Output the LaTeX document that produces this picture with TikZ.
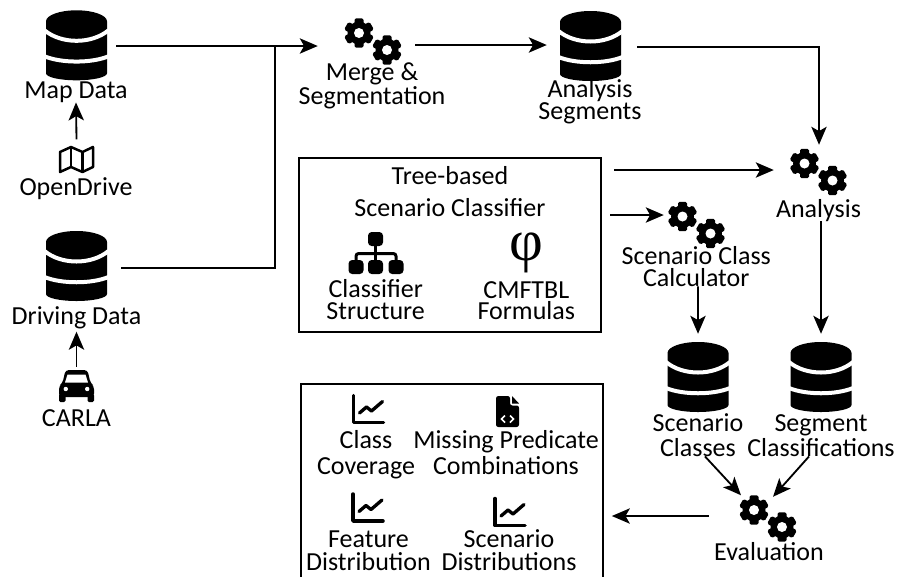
\documentclass[tikz,border=0pt]{standalone}
\usepackage{fontspec}
\setmainfont{Carlito}
\newfontfamily\phifont{Liberation Serif}
\usetikzlibrary{arrows.meta}

\tikzset{
	flow/.style={line width=.055cm, -{Stealth[length=.54cm,width=.46cm,inset=.13cm]}},
	plainflow/.style={line width=.055cm},
	panel/.style={draw, line width=.05cm, inner sep=0pt},
	caption/.style={inner sep=0pt, align=center, anchor=base},
	dbicon/.style={inner sep=0pt, minimum width=61*.03cm, minimum height=70*.03cm},
	gearicon/.style={inner sep=0pt, minimum width=57*.03cm, minimum height=46*.03cm},
	smallicon/.style={inner sep=0pt, minimum width=35*.03cm, minimum height=30*.03cm},
	database/.pic={
		\fill (-30.5,24) arc[start angle=180,end angle=0,x radius=30.5,y radius=11]
			-- (30.5,-28) arc[start angle=0,end angle=-180,x radius=30.5,y radius=7] -- cycle;
		\draw[white, line width=.12cm] (-32,15) .. controls (-15,1) and (15,1) .. (32,15);
		\draw[white, line width=.12cm] (-32,-11) .. controls (-15,-18) and (15,-18) .. (32,-11);
	},
	gears/.pic={
		\foreach \gx/\gy in {-14/8.5,14/-8.5} {
			\begin{scope}[shift={(\gx,\gy)}]
				\fill (0,0) circle (11.5);
				\foreach \a in {0,60,...,300} {
					\fill[rotate=\a, rounded corners=.05cm] (-4.5,8) rectangle (4.5,14.7);
				}
				\fill[white] (0,0) circle (5);
			\end{scope}
		}
	},
	chart/.pic={
		\draw[line width=.105cm, line cap=round, line join=round] (-15,14) -- (-15,-13) -- (15,-13);
		\draw[line width=.1cm, line cap=round, line join=round] (-9,-3.5) -- (-2,2.5) -- (3,-1.5) -- (14,8);
	},
	foldmap/.pic={
		\draw[line width=.075cm, line join=round] (-16.5,7.5) -- (-5.5,12.5) -- (6,7.5) -- (16.5,12.5)
			-- (16.5,-7.5) -- (6,-12.5) -- (-5.5,-7.5) -- (-16.5,-12.5) -- cycle;
		\draw[line width=.075cm] (-5.5,12.5) -- (-5.5,-7.5);
		\draw[line width=.075cm] (6,7.5) -- (6,-12.5);
	},
	car/.pic={
		\fill[rounded corners=.1cm] (-17.5,-11) -- (-17.5,0) -- (-14,3) -- (-11,16) -- (11,16) -- (14,3)
			-- (17.5,0) -- (17.5,-11) -- cycle;
		\fill[rounded corners=.04cm] (-17.5,-16) rectangle (-11,-8);
		\fill[rounded corners=.04cm] (17.5,-16) rectangle (11,-8);
		\fill[white] (-11.5,3.5) -- (-9,11.5) -- (9,11.5) -- (11.5,3.5) -- cycle;
		\fill[white] (-10.7,-3) circle (2.2);
		\fill[white] (10.7,-3) circle (2.2);
	},
	tree/.pic={
		\draw[line width=.09cm] (0,14) -- (0,0);
		\draw[line width=.09cm, rounded corners=.08cm] (-19.5,-12) -- (-19.5,0) -- (20.5,0) -- (20.5,-12);
		\draw[line width=.09cm] (0,0) -- (0,-12);
		\foreach \tx/\ty in {0/14.5,-19.5/-13.5,0/-13.5,20.5/-13.5} {
			\fill[rounded corners=.11cm] (\tx-7.5,\ty-7) rectangle (\tx+7.5,\ty+7);
		}
	},
	codefile/.pic={
		\fill[rounded corners=.07cm] (-11.5,15.5) -- (2.5,15.5) -- (2.5,6) -- (11.5,6) -- (11.5,-15.5)
			-- (-11.5,-15.5) -- cycle;
		\fill (4.5,15.5) -- (11.5,8) -- (4.5,8) -- cycle;
		\draw[white, line width=.05cm] (-2.5,-4) -- (-6,-7.5) -- (-2.5,-11);
		\draw[white, line width=.05cm] (2.5,-4) -- (6,-7.5) -- (2.5,-11);
	},
}

\begin{document}
\begin{tikzpicture}[x=.03cm, y=.03cm, font=\fontsize{22.2}{18}\selectfont]

	\useasboundingbox (0,0) rectangle (898,-576);

	% ---- panels

	\node[panel, minimum width=302.5*.03cm, minimum height=174*.03cm] (treebox) at (450,-245) {};
	\node[panel, minimum width=302*.03cm, minimum height=206*.03cm] (outputbox) at (452,-487) {};

	% ---- icons

	\node[dbicon] (mapdb) at (76.5,-45.3) {};
	\node[dbicon] (drivedb) at (76.5,-266) {};
	\node[dbicon] (segmentdb) at (590.5,-46) {};
	\node[dbicon] (scenariodb) at (698,-377) {};
	\node[dbicon] (classifdb) at (821,-377) {};

	\node[gearicon] (merge) at (373,-41.5) {};
	\node[gearicon] (analysis) at (818.5,-172) {};
	\node[gearicon] (calculator) at (696.5,-225) {};
	\node[gearicon] (evaluation) at (768,-518.5) {};

	\node[smallicon] (opendrive) at (76.5,-159.5) {};
	\node[smallicon] (carla) at (76.5,-386) {};
	\node[smallicon] (structure) at (375.5,-253.5) {};
	\node[smallicon] (coverage) at (368.5,-409.5) {};
	\node[smallicon] (missing) at (507.5,-411.5) {};
	\node[smallicon] (feature) at (368,-508) {};
	\node[smallicon] (scenariodist) at (510,-512.5) {};

	\foreach \n in {mapdb,drivedb,segmentdb,scenariodb,classifdb} { \pic at (\n) {database}; }
	\foreach \n in {merge,analysis,calculator,evaluation} { \pic at (\n) {gears}; }
	\foreach \n in {coverage,feature,scenariodist} { \pic at (\n) {chart}; }
	\pic at (opendrive) {foldmap};
	\pic at (carla) {car};
	\pic at (structure) {tree};
	\pic at (missing) {codefile};
	\node[inner sep=0pt, font=\phifont\fontsize{50}{50}\selectfont] (formula) at (526,-253) {φ};

	% ---- captions

	\node[caption] (maptext) at (76,-98) {Map Data};
	\node[caption] (opendrivetext) at (76,-195) {OpenDrive};
	\node[caption] (drivetext) at (76.5,-324) {Driving Data};
	\node[caption] (carlatext) at (76.5,-426) {CARLA};
	\node[caption] (mergetext) at (372,-104) {Merge \&\\Segmentation};
	\node[caption] (segmenttext) at (590,-119) {Analysis\\Segments};
	\node[caption] (analysistext) at (818.5,-217) {Analysis};
	\node[caption, font=\fontsize{22.2}{27.3}\selectfont] (treetext) at (450,-216) {Tree-based\\Scenario Classifier};
	\node[caption] (structuretext) at (375.7,-319) {Classifier\\Structure};
	\node[caption] (formulatext) at (526.3,-319.5) {CMFTBL\\Formulas};
	\node[caption] (calculatortext) at (696.3,-286) {Scenario Class\\Calculator};
	\node[caption, font=\fontsize{22.2}{20.5}\selectfont] (scenariotext) at (698,-456) {Scenario\\Classes};
	\node[caption, font=\fontsize{22.2}{20.5}\selectfont] (classiftext) at (821,-456) {Segment\\Classifications};
	\node[caption] (evaluationtext) at (769,-560) {Evaluation};
	\node[caption, font=\fontsize{22.2}{22}\selectfont] (coveragetext) at (366,-474) {Class\\Coverage};
	\node[caption, font=\fontsize{22.2}{22}\selectfont] (missingtext) at (506,-474) {Missing Predicate\\Combinations};
	\node[caption, font=\fontsize{22.2}{19.6}\selectfont] (featuretext) at (368.5,-570) {Feature\\Distribution};
	\node[caption, font=\fontsize{22.2}{19.6}\selectfont] (scenariodisttext) at (509,-570) {Scenario\\Distributions};

	% ---- connectors

	\coordinate (mergejoin) at (275,-46);

	\draw[flow] ([shift={(0,5)}]opendrive.north) -- (maptext.south);
	\draw[flow] ([shift={(0,4)}]carla.north) -- ([shift={(0,-3)}]drivetext.south);
	\draw[flow] ([shift={(9,-.7)}]mapdb.east) -- ([shift={(-26.5,-4.5)}]merge.west);
	\draw[plainflow] ([shift={(14,-2)}]drivedb.east) -| (mergejoin);
	\draw[flow] ([shift={(13.5,-3.5)}]merge.east) -- ([shift={(-13,1)}]segmentdb.west);
	\draw[flow] ([shift={(16,-1)}]segmentdb.east) -| ([shift={(.5,4)}]analysis.north);
	\draw[flow] ([shift={(12,75)}]treebox.east) -- ([shift={(-16,2)}]analysis.west);
	\draw[flow] ([shift={(8,30)}]treebox.east) -- ([shift={(-4,10)}]calculator.west);
	\draw[flow] ([shift={(1.7,0)}]calculatortext.south) -- ([shift={(0,8)}]scenariodb.north);
	\draw[flow] ([shift={(2.5,0)}]analysistext.south) -- ([shift={(0,8)}]classifdb.north);
	\draw[flow] ([shift={(7,0)}]scenariotext.south) -- ([shift={(-27,0)}]evaluation.north);
	\draw[flow] ([shift={(-12,0)}]classiftext.south) -- ([shift={(5,-1.5)}]evaluation.north);
	\draw[flow] ([shift={(-30.5,2.5)}]evaluation.west) -- ([shift={(8,-29)}]outputbox.east);

\end{tikzpicture}
\end{document}
